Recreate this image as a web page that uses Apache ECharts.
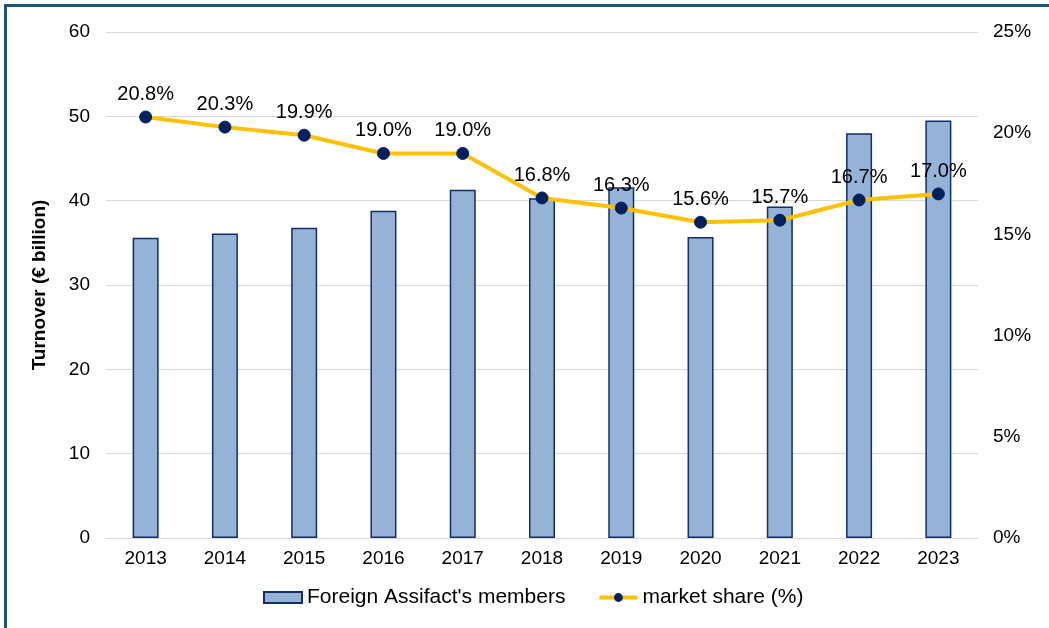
<!DOCTYPE html>
<html>
<head>
<meta charset="utf-8">
<script src="https://cdn.jsdelivr.net/npm/echarts@6/dist/echarts.min.js"></script>
<style>
html,body{margin:0;padding:0;background:#fff;}
#frame{position:absolute;left:4px;top:4px;width:1060px;height:640px;border-left:3px solid #1d5478;border-top:3px solid #1d5478;box-sizing:border-box;}
#chart{position:absolute;left:0;top:0;width:1049px;height:628px;}
</style>
</head>
<body>
<div id="frame"></div>
<div id="chart"></div>
<script>
const years = ['2013','2014','2015','2016','2017','2018','2019','2020','2021','2022','2023'];
const turnover = [35.6, 36.1, 36.8, 38.8, 41.3, 40.3, 41.6, 35.7, 39.3, 48.0, 49.5];
const marketShare = [20.8, 20.3, 19.9, 19.0, 19.0, 16.8, 16.3, 15.6, 15.7, 16.7, 17.0];
const barName = "Foreign Assifact's members";
const lineName = 'market share (%)';

const font = 'Liberation Sans, Arial, sans-serif';
const chart = echarts.init(document.getElementById('chart'));
chart.setOption({
  animation: false,
  textStyle: {fontFamily: font},
  grid: {left: 106, right: 71, top: 32, bottom: 90},
  legend: {
    bottom: 15, left: 258, itemGap: 32, itemWidth: 38, itemHeight: 11,
    textStyle: {fontSize: 21, color: '#000', fontFamily: font},
    data: [
      {name: barName, icon: 'rect'},
      {name: lineName, lineStyle: {width: 4, color: '#ffc000'}}
    ]
  },
  xAxis: {
    type: 'category', data: years,
    axisLine: {show: true, lineStyle: {color: '#d9d9d9', width: 1}},
    axisTick: {show: false},
    axisLabel: {fontSize: 19, color: '#000', margin: 11, fontFamily: font}
  },
  yAxis: [
    {
      type: 'value', min: 0, max: 60, interval: 10,
      name: 'Turnover (€ billion)', nameLocation: 'middle', nameGap: 57,
      nameTextStyle: {fontSize: 19, fontWeight: 'bold', color: '#000', fontFamily: font},
      axisLabel: {fontSize: 19, color: '#000', margin: 16, fontFamily: font},
      splitLine: {lineStyle: {color: '#d9d9d9', width: 1}},
      axisLine: {show: false}, axisTick: {show: false}
    },
    {
      type: 'value', min: 0, max: 25, interval: 5,
      axisLabel: {fontSize: 19, color: '#000', margin: 15, formatter: '{value}%', fontFamily: font},
      splitLine: {show: false}, axisLine: {show: false}, axisTick: {show: false}
    }
  ],
  series: [
    {
      name: barName, type: 'bar', data: turnover, barWidth: 26,
      itemStyle: {color: '#95b3d7', borderColor: '#0f2e6b', borderWidth: 1.5}
    },
    {
      name: lineName, type: 'line', yAxisIndex: 1, data: marketShare,
      symbol: 'circle', symbolSize: 12,
      lineStyle: {color: '#ffc000', width: 4},
      itemStyle: {color: '#002060', borderColor: '#002060'},
      label: {show: true, position: 'top', distance: 6, formatter: p => p.value.toFixed(1) + '%',
              fontSize: 20, color: '#000', fontFamily: font},
      z: 5
    }
  ]
});
</script>
</body>
</html>
